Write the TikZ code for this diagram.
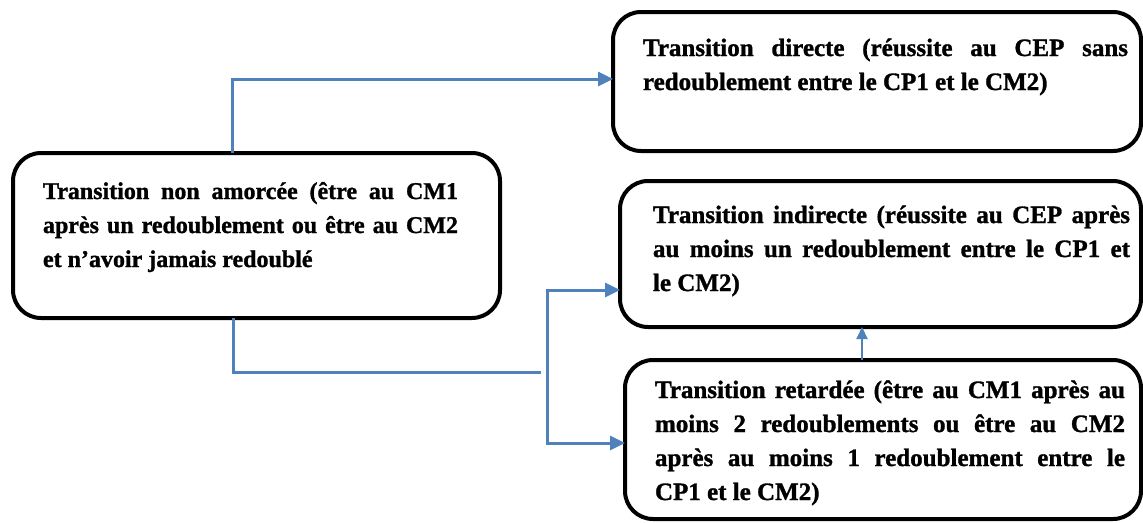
\documentclass[tikz,border=0pt]{standalone}
\usepackage{fontspec}
\setmainfont{Liberation Serif}[BoldFeatures={FakeBold=1.2}]
\usetikzlibrary{arrows.meta}
\definecolor{connc}{HTML}{4F81BD}
\tikzset{
  box/.style={draw=black, line width=4pt, rounded corners=28pt, outer sep=0pt, inner sep=0pt, anchor=north west},
  txt/.style={anchor=north west, inner sep=0pt, outer sep=0pt, align=justify, font=\bfseries\fontsize{25}{34}\selectfont},
  link/.style={draw=connc, line width=3pt},
  tip/.style={-{Triangle[length=15pt,width=14pt]}},
  twotip/.style={{Triangle[length=15pt,width=14pt]}-{Triangle[length=15pt,width=14pt]}},
  smalltip/.style={-{Triangle[length=12pt,width=11pt]}}
}
\begin{document}
\begin{tikzpicture}[x=1pt,y=-1pt]
\useasboundingbox (0,0) rectangle (1143,522);
\clip (0,0) rectangle (1143,522);
% boxes
\node[box, minimum width=487pt, minimum height=165pt] (L) at (13,153) {};
\node[box, minimum width=528pt, minimum height=139pt] (T) at (613,12) {};
\node[box, minimum width=521pt, minimum height=146pt] (M) at (620,181) {};
\node[box, minimum width=516pt, minimum height=159pt] (B) at (625,360) {};
% texts
\node[txt, text width=415pt, font=\bfseries\fontsize{24}{34}\selectfont] (Lt) at (43,180) {\rule{0pt}{19pt}Transition non amorcée (être au CM1\linebreak après un redoublement ou être au CM2\linebreak et n’avoir jamais redoublé};
\node[txt, text width=485pt] (Tt) at (643,37) {\rule{0pt}{19pt}Transition directe (réussite au CEP sans\linebreak redoublement entre le CP1 et le CM2)};
\node[txt, text width=477pt] (Mt) at (653,204) {\rule{0pt}{19pt}Transition indirecte (réussite au CEP après\linebreak au moins un redoublement entre le CP1 et\linebreak le CM2)};
\node[txt, text width=470pt] (Bt) at (655,379) {\rule{0pt}{19pt}Transition retardée (être au CM1 après au\linebreak moins 2 redoublements ou être au CM2\linebreak après au moins 1 redoublement entre le\linebreak CP1 et le CM2)};
% connectors
\coordinate (c1) at (232,79);
\draw[link,tip] (L.north -| c1) -- (c1) -- (c1 -| T.west);
\coordinate (c2) at (233,372);
\coordinate (c3) at (541,372);
\draw[link] (L.south -| c2) -- (c2) -- (c3);
\coordinate (v1) at (547,290);
\coordinate (v2) at (547,443);
\draw[link,twotip] (v1 -| M.west) -- (v1) -- (v2) -- (v2 -| B.west);
\coordinate (u) at (862,0);
\draw[link,line width=2pt,smalltip] (B.north -| u) -- (M.south -| u);
\end{tikzpicture}
\end{document}
